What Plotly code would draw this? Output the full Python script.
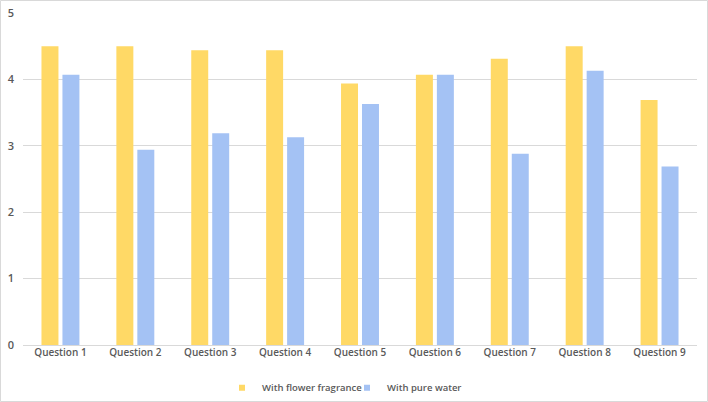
import plotly.graph_objects as go

questions = [f"Question {i}" for i in range(1, 10)]
flower = [4.50, 4.50, 4.44, 4.44, 3.94, 4.07, 4.31, 4.50, 3.69]
water = [4.07, 2.94, 3.19, 3.13, 3.63, 4.07, 2.88, 4.13, 2.69]
series = [("With flower fragrance", flower, "#ffd966"), ("With pure water", water, "#a4c2f4")]

W, H = 708, 402
ML, MR, MT, MB = 23, 11, 13, 57
pw, ph = W - ML - MR, H - MT - MB
txt = "#595959"

fig = go.Figure()
for name, vals, color in series:
    fig.add_trace(go.Bar(x=questions, y=vals, name=name, showlegend=False,
                         marker=dict(color=color, line=dict(width=0))))
# small square legend keys
for name, vals, color in series:
    fig.add_trace(go.Scatter(x=[questions[0]], y=[None], name=name, mode="markers",
                             marker=dict(symbol="square", size=6, color=color)))

fig.update_layout(
    width=W, height=H,
    margin=dict(l=ML, r=MR, t=MT, b=MB, autoexpand=False),
    plot_bgcolor="white", paper_bgcolor="white",
    barmode="group", bargap=0.44, bargroupgap=0.19,
    font=dict(family="Open Sans, Liberation Sans, sans-serif", size=10, color=txt),
    legend=dict(orientation="h", x=(222 - ML) / pw, xanchor="left", y=-0.085, yanchor="top",
                font=dict(size=9.5, color=txt, weight=600), itemwidth=30,
                entrywidth=80, bgcolor="rgba(0,0,0,0)"),
    showlegend=True,
)
fig.update_xaxes(showgrid=False, showline=False, ticks="",
                 tickfont=dict(size=10, color=txt, weight=600))
fig.update_yaxes(range=[0, 5], dtick=1, showgrid=True, gridcolor="#d9d9d9", gridwidth=1,
                 zeroline=True, zerolinecolor="#d9d9d9", zerolinewidth=1,
                 showline=False, ticks="", ticklabelstandoff=8,
                 tickfont=dict(size=11, color=txt, weight=600))

fig.add_shape(type="rect", xref="paper", yref="paper",
              x0=(0.5 - ML) / pw, x1=(W - 0.5 - ML) / pw,
              y0=-(H - 0.5 - MT - ph) / ph, y1=1 + (MT - 0.5) / ph,
              line=dict(color="#d9d9d9", width=1), layer="below")

fig.write_html("out.html", config={"displayModeBar": False},
               post_script="document.body.style.margin='0';")
